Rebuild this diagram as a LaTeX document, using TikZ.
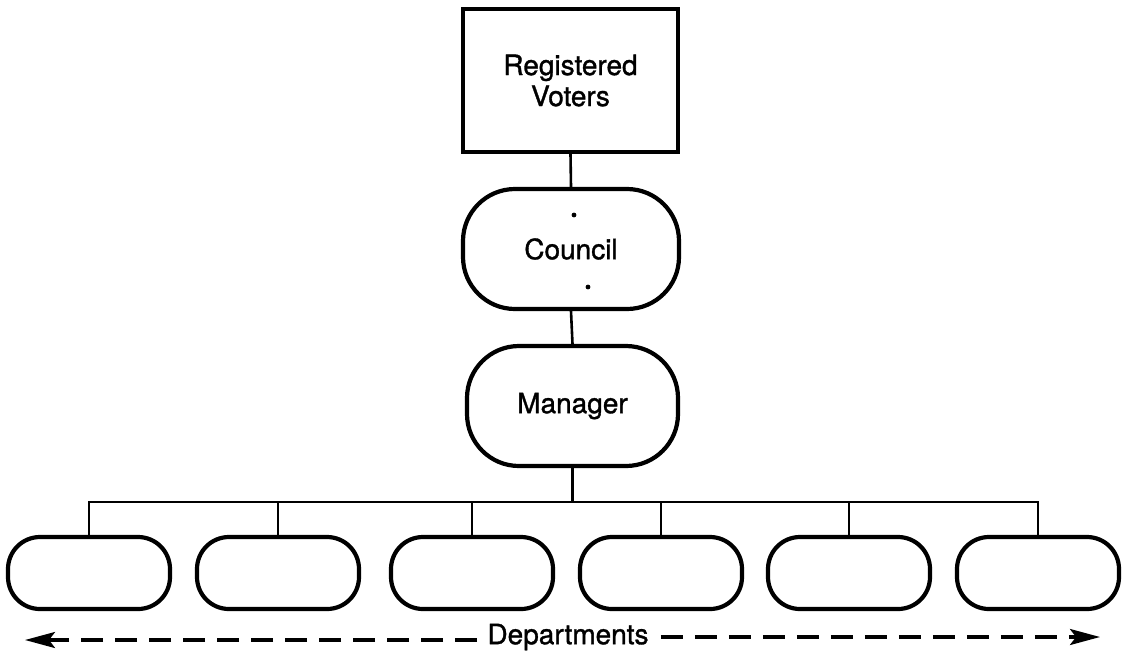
\documentclass[tikz,border=0pt]{standalone}
\usepackage{fontspec}
\setmainfont{TeX Gyre Heros}
\newfontfamily\lblfont{TeX Gyre Heros}[FakeBold=1.2]
\usetikzlibrary{arrows.meta}
\begin{document}
\begin{tikzpicture}[x=1pt,y=-1pt,
  lbl/.style={font=\lblfont\fontsize{28}{33}\selectfont, align=center},
  sqbox/.style={draw, line width=4.2pt, rectangle, inner sep=0pt, minimum width=215pt, minimum height=143pt},
  pill/.style={draw, line width=4.2pt, rectangle, rounded corners=52pt, inner sep=0pt, minimum width=216pt, minimum height=120pt},
  dept/.style={draw, line width=4.2pt, rectangle, rounded corners=32pt, inner sep=0pt, minimum width=162pt, minimum height=72pt},
  conn/.style={line width=2.6pt},
  dasharrow/.style={line width=3.2pt, dash pattern=on 22pt off 12pt, -{Stealth[length=30pt,width=16pt,inset=6pt]}}
]
\useasboundingbox (0,0) rectangle (1127,657);
\node[sqbox, lbl] (voters) at (570.5,80.5) {Registered\\[-2pt]Voters};
\node[pill, lbl] (council) at (571,249) {Council};
\node[pill, lbl, minimum width=211pt] (mgr) at (572.5,406) {Manager};
\node[dept] (d1) at (89,573) {};
\node[dept] (d2) at (278,573) {};
\node[dept] (d3) at (472,573) {};
\node[dept] (d4) at (661,573) {};
\node[dept] (d5) at (849,573) {};
\node[dept] (d6) at (1038,573) {};
\coordinate (bus) at (0,502);
\draw[conn] (voters.south) -- (council.north);
\draw[conn] (council.south) -- (mgr.north);
\draw[conn] (mgr.south) -- (mgr.south |- bus);
\draw[conn] (d1.north) -- (d1.north |- bus) -- (d6.north |- bus) -- (d6.north);
\foreach \d in {d2,d3,d4,d5} \draw[conn] (\d.north) -- (\d.north |- bus);
% stray dots visible in the picture
\fill (574,215) circle (2.4pt);
\fill (588,287) circle (2.4pt);
\node[lbl, inner sep=0pt] (dep) at (568,637) {Departments};
\coordinate (lend) at (25,640);
\coordinate (rend) at (1100,637);
\draw[dasharrow, shorten <=10pt] (dep.west |- lend) -- (lend);
\draw[dasharrow, shorten <=12pt] (dep.east |- rend) -- (rend);
\end{tikzpicture}
\end{document}
